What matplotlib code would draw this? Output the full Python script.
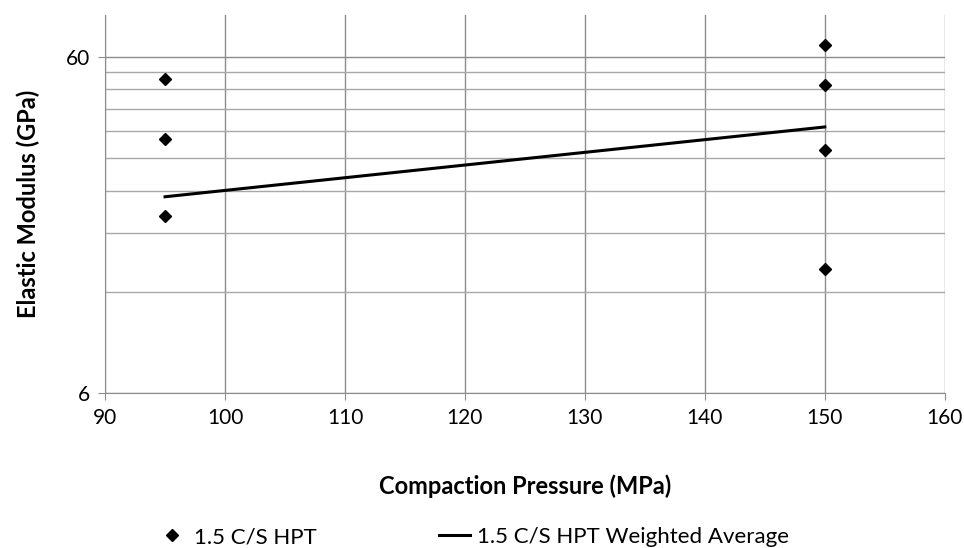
import numpy as np
import matplotlib.pyplot as plt
from matplotlib.ticker import FixedLocator, NullFormatter

plt.rcParams['font.family'] = ['Lato', 'DejaVu Sans']

# measured points
pressure = [95, 95, 95, 150, 150, 150, 150]
modulus = [51.6, 34.2, 20.2, 65.1, 49.5, 31.6, 14.0]

# weighted average line
avg_pressure = [95, 150]
avg_modulus = [23.0, 37.1]

f = plt.figure(figsize=(9.64, 5.48), dpi=100)
ax = f.add_axes([0.109, 0.283, 0.871, 0.690])

ax.plot(pressure, modulus, 'kD', markersize=6.5, linestyle='none', label='1.5 C/S HPT')
ax.plot(avg_pressure, avg_modulus, 'k-', linewidth=2.2, label='1.5 C/S HPT Weighted Average')

ax.set_yscale('log')
ax.set_ylim(6, 80)
ax.set_xlim(90, 160)
ax.set_xticks(np.arange(90, 161, 10))
ax.yaxis.set_major_locator(FixedLocator([6, 60]))
ax.yaxis.set_major_formatter(plt.FuncFormatter(lambda v, p: '%g' % v))
ax.yaxis.set_minor_locator(FixedLocator([12, 18, 24, 30, 36, 42, 48, 54]))
ax.yaxis.set_minor_formatter(NullFormatter())

ax.grid(which='major', color='#8c8c8c', linewidth=1.0)
ax.grid(which='minor', axis='y', color='#a8a8a8', linewidth=1.0)
ax.set_axisbelow(True)
for s in ['top', 'right']:
    ax.spines[s].set_visible(False)
ax.spines['left'].set_color('#8c8c8c')
ax.spines['bottom'].set_color('#8c8c8c')
ax.tick_params(which='both', length=5, color='#8c8c8c', labelsize=15, pad=6)
ax.tick_params(which='minor', length=0)

ax.set_xlabel('Compaction Pressure (MPa)', fontsize=17, fontweight='bold', labelpad=33)
ax.set_ylabel('Elastic Modulus (GPa)', fontsize=17, fontweight='bold', labelpad=18)

f.legend(loc='lower center', bbox_to_anchor=(0.49, -0.035), ncol=2, frameon=False,
         fontsize=16, columnspacing=5.5, handlelength=1.4, handletextpad=0.3)

plt.savefig('out.png', dpi=100)
